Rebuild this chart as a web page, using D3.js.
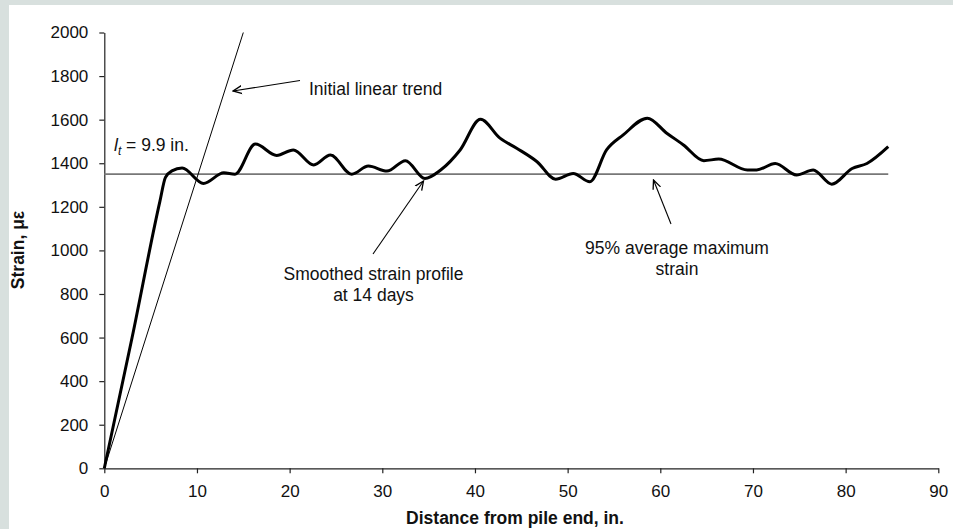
<!DOCTYPE html>
<html><head><meta charset="utf-8">
<script src="https://cdn.jsdelivr.net/npm/d3@7"></script>
<style>
body{margin:0;background:#d8e0de;}
svg{display:block;font-family:"Liberation Sans",Arial,sans-serif;}
</style></head>
<body>
<svg id="c" width="953" height="529"></svg>
<script>
const xTicks = [0,10,20,30,40,50,60,70,80,90];
const yTicks = [0,200,400,600,800,1000,1200,1400,1600,1800,2000];
const strainDist = [0,3,6.0,6.6,7.3,8.4,10.7,12.9,14.1,16.3,18.6,20.4,22.6,24.4,26.7,28.5,30.5,32.5,34.6,36.3,38.4,40.6,42.7,44.5,46.7,48.7,50.6,52.4,54.2,56.0,58.6,60.7,62.5,64.7,66.3,69.4,70.4,72.4,74.7,76.5,78.5,80.7,82.3,84.6];
const strainVal = [0,600,1225,1335,1365,1378,1307,1356,1350,1488,1436,1461,1392,1438,1350,1387,1364,1412,1330,1369,1461,1602,1515,1469,1407,1327,1353,1315,1461,1530,1607,1538,1484,1412,1419,1369,1369,1399,1346,1369,1304,1376,1399,1476];
const trendDist = [0,15];
const trendVal = [0,2000];
const avgMaxStrain = 1350;
const avgRange = [0,84.6];

const FS = 17.5;
const svg = d3.select("#c");
svg.append("rect").attr("x",9).attr("y",5).attr("width",944).attr("height",524).attr("fill","#fff");

const x = d3.scaleLinear().domain([0,90]).range([104.3,938.3]);
const y = d3.scaleLinear().domain([0,2000]).range([468.3,32.5]);

const gx = svg.append("g").attr("transform",`translate(0,${y(0)})`)
  .call(d3.axisBottom(x).tickValues(xTicks).tickFormat(d3.format("d")).tickSize(5).tickSizeOuter(0).tickPadding(12));
const gy = svg.append("g").attr("transform",`translate(${x(0)},0)`)
  .call(d3.axisLeft(y).tickValues(yTicks).tickFormat(d3.format("d")).tickSize(5).tickSizeOuter(0).tickPadding(11));
[gx,gy].forEach(g=>{
  g.selectAll("text").attr("font-size",17).attr("fill","#111").attr("font-family","Liberation Sans, Arial, sans-serif");
  g.selectAll("line,path").attr("stroke","#222").attr("stroke-width",1.2);
});

// average max line
svg.append("line").attr("x1",x(avgRange[0])).attr("x2",x(avgRange[1]))
  .attr("y1",y(avgMaxStrain)).attr("y2",y(avgMaxStrain))
  .attr("stroke","#777").attr("stroke-width",1.6);

// linear trend
svg.append("path").datum(trendDist.map((d,i)=>[d,trendVal[i]]))
  .attr("d",d3.line().x(d=>x(d[0])).y(d=>y(d[1])))
  .attr("fill","none").attr("stroke","#000").attr("stroke-width",1);

// strain profile
svg.append("path").datum(strainDist.map((d,i)=>[d,strainVal[i]]))
  .attr("d",d3.line().x(d=>x(d[0])).y(d=>y(d[1])).curve(d3.curveMonotoneX))
  .attr("fill","none").attr("stroke","#000").attr("stroke-width",3).attr("stroke-linejoin","round");

// arrows
const defs = svg.append("defs");
defs.append("marker").attr("id","ah").attr("viewBox","0 0 10 10").attr("refX",9).attr("refY",5)
  .attr("markerWidth",10).attr("markerHeight",10).attr("markerUnits","userSpaceOnUse").attr("orient","auto")
  .append("path").attr("d","M0,1 L9,5 L0,9").attr("fill","none").attr("stroke","#000").attr("stroke-width",1.3);
function arrow(x1,y1,x2,y2){
  svg.append("line").attr("x1",x1).attr("y1",y1).attr("x2",x2).attr("y2",y2)
    .attr("stroke","#000").attr("stroke-width",1.1).attr("marker-end","url(#ah)");
}
arrow(300,80.5,233,91);
arrow(373,254,423.5,181);
arrow(671,224,653.5,180);

const txt = (t,xx,yy,anchor="start")=>svg.append("text").attr("x",xx).attr("y",yy)
  .attr("font-size",FS).attr("fill","#111").attr("text-anchor",anchor).text(t);
txt("Initial linear trend",309,95);
txt("Smoothed strain profile",373.5,280,"middle");
txt("at 14 days",373.5,301,"middle");
txt("95% average maximum",677,254,"middle");
txt("strain",677,275,"middle");

const lt = svg.append("text").attr("x",114).attr("y",151).attr("font-size",FS).attr("fill","#111");
lt.append("tspan").attr("font-style","italic").text("l");
lt.append("tspan").attr("font-style","italic").attr("font-size",12).attr("dy",4).text("t");
lt.append("tspan").attr("dy",-4).text(" = 9.9 in.");

svg.append("text").attr("x",515).attr("y",524).attr("text-anchor","middle")
  .attr("font-size",FS).attr("font-weight","bold").attr("fill","#111").text("Distance from pile end, in.");
svg.append("text").attr("transform",`translate(24,250) rotate(-90)`).attr("text-anchor","middle")
  .attr("font-size",FS).attr("font-weight","bold").attr("fill","#111").text("Strain, με");
</script>
</body></html>
